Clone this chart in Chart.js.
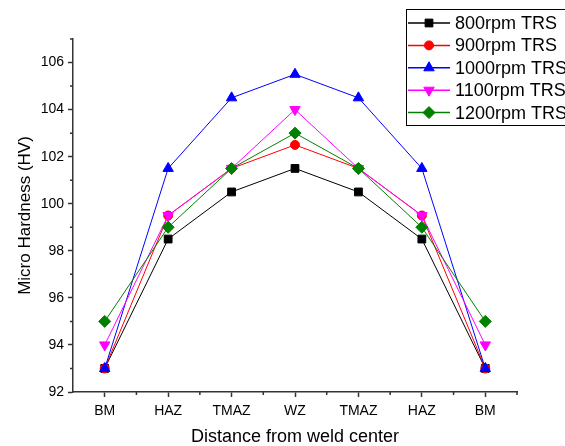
<!DOCTYPE html>
<html>
<head>
<meta charset="utf-8">
<script src="https://cdn.jsdelivr.net/npm/chart.js@4.4.1/dist/chart.umd.min.js"></script>
<style>
  html, body { margin: 0; padding: 0; background: #fff; }
  #wrap { width: 565px; height: 446px; }
</style>
</head>
<body>
<div id="wrap"><canvas id="myChart" width="565" height="446"></canvas></div>
<script>
// data
const zones = ["BM", "HAZ", "TMAZ", "WZ", "TMAZ", "HAZ", "BM"];
const seriesNames = ["800rpm TRS", "900rpm TRS", "1000rpm TRS", "1100rpm TRS", "1200rpm TRS"];
const rpm800 = [93, 98.5, 100.5, 101.5, 100.5, 98.5, 93];
const rpm900 = [93, 99.5, 101.5, 102.5, 101.5, 99.5, 93];
const rpm1000 = [93, 101.5, 104.5, 105.5, 104.5, 101.5, 93];
const rpm1100 = [94, 99.5, 101.5, 104, 101.5, 99.5, 94];
const rpm1200 = [95, 99, 101.5, 103, 101.5, 99, 95];
const yTicks = [92, 94, 96, 98, 100, 102, 104, 106];
const yMinor = [93, 95, 97, 99, 101, 103, 105, 107];

const font = "'Liberation Sans', Arial, sans-serif";
const axisColor = '#333';

function makeSet(label, data, color, style, radius, rotation, order) {
    return {
        label: label,
        data: data,
        borderColor: color,
        backgroundColor: color,
        borderWidth: 1,
        pointStyle: style,
        pointRadius: radius,
        pointRotation: rotation,
        pointBorderWidth: 1,
        pointBorderColor: color,
        pointBackgroundColor: color,
        tension: 0,
        order: order
    };
}

// short ticks halfway between the major ones
const minorTicks = {
    id: 'minorTicks',
    afterDraw(chart) {
        const ctx = chart.ctx;
        const xs = chart.scales.x, ys = chart.scales.y;
        ctx.save();
        ctx.strokeStyle = axisColor;
        ctx.lineWidth = 1.5;
        ctx.beginPath();
        for (let i = 0; i < zones.length; i++) {
            const p = xs.getPixelForValue(i) + (xs.getPixelForValue(1) - xs.getPixelForValue(0)) / 2;
            ctx.moveTo(p, xs.top);
            ctx.lineTo(p, xs.top + 3);
        }
        yMinor.forEach(v => {
            const p = ys.getPixelForValue(v);
            ctx.moveTo(ys.right, p);
            ctx.lineTo(ys.right - 3, p);
        });
        ctx.stroke();
        ctx.restore();
    }
};

// boxed legend sitting over the top right corner
const boxLegend = {
    id: 'boxLegend',
    afterDraw(chart) {
        const ctx = chart.ctx;
        const bx = 406, by = 9, bh = 116;
        ctx.save();
        ctx.fillStyle = '#fff';
        ctx.fillRect(bx, by, 200, bh);
        ctx.strokeStyle = '#000';
        ctx.lineWidth = 1;
        ctx.strokeRect(bx + 0.5, by + 0.5, 200, bh);
        chart.data.datasets.forEach((ds, i) => {
            const y = 23 + i * 22.4;
            ctx.strokeStyle = ds.borderColor;
            ctx.lineWidth = 1.5;
            ctx.beginPath();
            ctx.moveTo(408, y);
            ctx.lineTo(450, y);
            ctx.stroke();
            ctx.fillStyle = ds.borderColor;
            ctx.lineWidth = 1;
            Chart.helpers.drawPoint(ctx, {
                pointStyle: ds.pointStyle,
                radius: ds.pointRadius,
                rotation: ds.pointRotation,
                borderWidth: 1
            }, 429, y);
            ctx.fillStyle = '#000';
            ctx.font = '18px ' + font;
            ctx.textBaseline = 'middle';
            ctx.textAlign = 'left';
            ctx.fillText(ds.label, 455, y + 1);
        });
        ctx.restore();
    }
};

const ctx = document.getElementById('myChart').getContext('2d');
new Chart(ctx, {
    type: 'line',
    data: {
        labels: zones,
        datasets: [
            makeSet(seriesNames[0], rpm800, '#000000', 'rect', 5.5, 0, 4),
            makeSet(seriesNames[1], rpm900, '#ff0000', 'circle', 4.5, 0, 3),
            makeSet(seriesNames[2], rpm1000, '#0000ff', 'triangle', 6, 0, 2),
            makeSet(seriesNames[3], rpm1100, '#ff00ff', 'triangle', 6, 180, 1),
            makeSet(seriesNames[4], rpm1200, '#008000', 'rectRot', 6, 0, 0)
        ]
    },
    options: {
        responsive: false,
        animation: false,
        layout: { padding: { top: 39, right: 48, left: 0, bottom: 0 } },
        plugins: {
            legend: { display: false },
            tooltip: { enabled: false }
        },
        scales: {
            x: {
                type: 'category',
                offset: true,
                afterFit(scale) { scale.height = 54; },
                grid: {
                    offset: false,
                    drawOnChartArea: false,
                    tickLength: 5,
                    tickColor: axisColor,
                    tickWidth: 1.5
                },
                border: { display: true, color: axisColor, width: 1.5 },
                ticks: {
                    color: '#000',
                    padding: 6,
                    maxRotation: 0,
                    autoSkip: false,
                    font: { family: font, size: 14 }
                },
                title: {
                    display: true,
                    text: 'Distance from weld center',
                    color: '#000',
                    padding: 0,
                    font: { family: font, size: 18, lineHeight: 1 }
                }
            },
            y: {
                type: 'linear',
                min: 92,
                max: 107,
                afterFit(scale) { scale.width = 73; },
                afterBuildTicks(scale) { scale.ticks = yTicks.map(v => ({ value: v })); },
                grid: {
                    drawOnChartArea: false,
                    tickLength: 5,
                    tickColor: axisColor,
                    tickWidth: 1.5
                },
                border: { display: true, color: axisColor, width: 1.5 },
                ticks: {
                    color: '#000',
                    padding: 4,
                    font: { family: font, size: 14 }
                },
                title: {
                    display: true,
                    text: 'Micro Hardness (HV)',
                    color: '#000',
                    padding: { top: 17, bottom: 0 },
                    font: { family: font, size: 17, lineHeight: 1 }
                }
            }
        }
    },
    plugins: [minorTicks, boxLegend]
});
</script>
</body>
</html>
